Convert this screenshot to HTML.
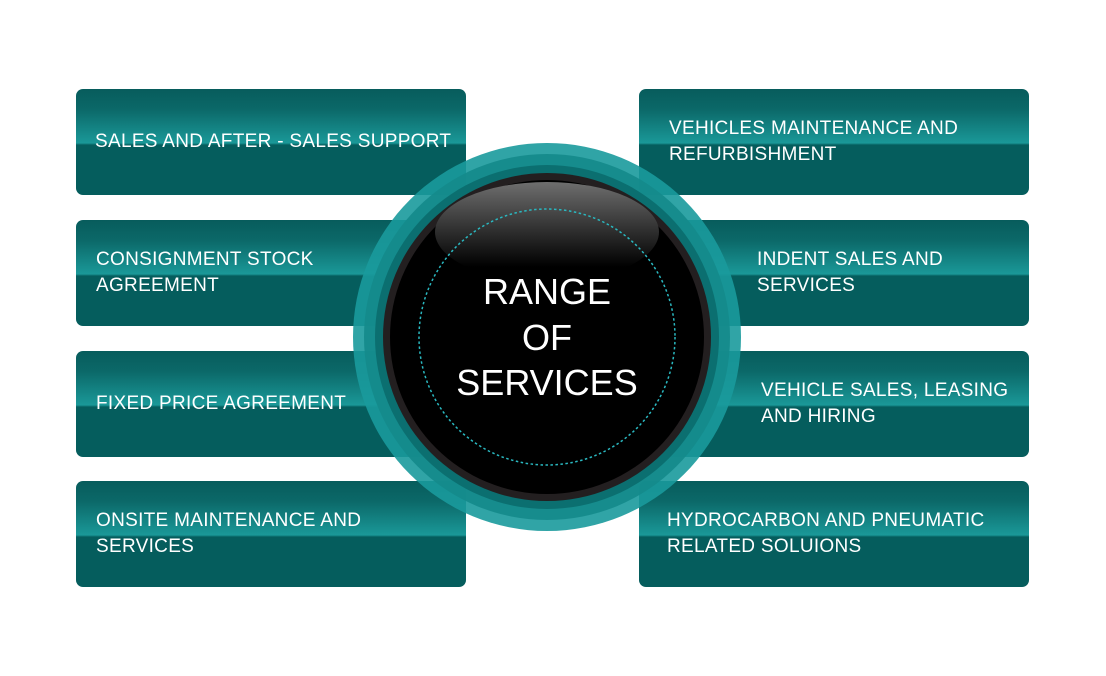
<!DOCTYPE html>
<html><head><style>
body{margin:0;width:1106px;height:676px;background:#fff;position:relative;overflow:hidden;font-family:"Liberation Sans",sans-serif}
.b{position:absolute;width:390px;height:106px;border-radius:7px;overflow:hidden;
background:linear-gradient(#075c5c 0px,#0b6868 20px,#1a9898 54px,#055d5d 56px,#055d5d 100%)}
.t{position:absolute;color:#fff;font-size:19px;line-height:26px;letter-spacing:0.3px;white-space:nowrap}
svg{position:absolute;left:0;top:0}
</style></head><body>
<div class="b" style="left:76px;top:89px"></div>
<div class="b" style="left:76px;top:220px"></div>
<div class="b" style="left:76px;top:351px"></div>
<div class="b" style="left:76px;top:481px"></div>
<div class="b" style="left:639px;top:89px"></div>
<div class="b" style="left:639px;top:220px"></div>
<div class="b" style="left:639px;top:351px"></div>
<div class="b" style="left:639px;top:481px"></div>
<svg width="1106" height="676">
<defs>
<linearGradient id="g" x1="0" y1="0" x2="0" y2="1"><stop offset="0" stop-color="#6e6e6e"/><stop offset="0.85" stop-color="#000"/></linearGradient>
</defs>
<circle cx="547" cy="337" r="194" fill="#1a9a9c" fill-opacity="0.9"/>
<circle cx="547" cy="337" r="183" fill="#14898b" fill-opacity="0.9"/>
<circle cx="547" cy="337" r="172" fill="#0b6f70"/>
<circle cx="547" cy="337" r="164" fill="#231f20"/>
<circle cx="547" cy="337" r="157" fill="#000"/>
<ellipse cx="547" cy="232" rx="112" ry="50" fill="url(#g)"/>
<circle cx="547" cy="337" r="128" fill="none" stroke="#2ab8c0" stroke-width="1.5" stroke-dasharray="2.5 2.5"/>
<text x="547" y="304" fill="#fff" font-size="36" text-anchor="middle" font-family="Liberation Sans">RANGE</text>
<text x="547" y="350" fill="#fff" font-size="36" text-anchor="middle" font-family="Liberation Sans">OF</text>
<text x="547" y="395" fill="#fff" font-size="36" text-anchor="middle" font-family="Liberation Sans">SERVICES</text>
</svg>
<div class="t" style="left:95px;top:129px">SALES AND AFTER - SALES SUPPORT</div>
<div class="t" style="left:96px;top:247px">CONSIGNMENT STOCK<br>AGREEMENT</div>
<div class="t" style="left:96px;top:391px">FIXED PRICE AGREEMENT</div>
<div class="t" style="left:96px;top:508px">ONSITE MAINTENANCE AND<br>SERVICES</div>
<div class="t" style="left:669px;top:116px">VEHICLES MAINTENANCE AND<br>REFURBISHMENT</div>
<div class="t" style="left:757px;top:247px">INDENT SALES AND<br>SERVICES</div>
<div class="t" style="left:761px;top:378px">VEHICLE SALES, LEASING<br>AND HIRING</div>
<div class="t" style="left:667px;top:508px">HYDROCARBON AND PNEUMATIC<br>RELATED SOLUIONS</div>
</body></html>
